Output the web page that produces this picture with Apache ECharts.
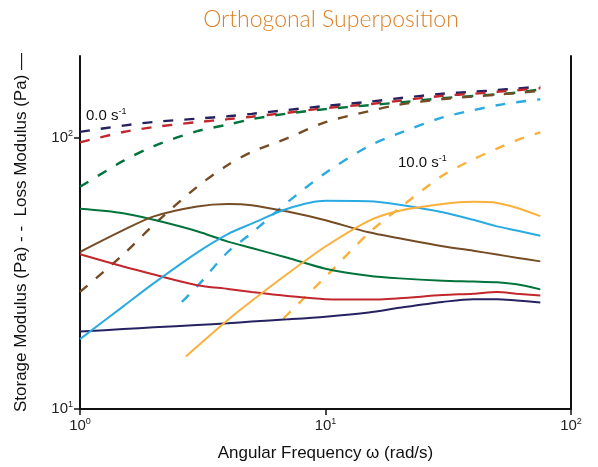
<!DOCTYPE html>
<html>
<head>
<meta charset="utf-8">
<script src="https://cdn.jsdelivr.net/npm/echarts@6/dist/echarts.min.js"></script>
<style>
  html, body { margin: 0; padding: 0; background: #fff; }
  #chart { width: 598px; height: 467px; }
</style>
</head>
<body>
<div id="chart"></div>
<script>
// angular frequency samples (rad/s)
const omega = [1, 1.5, 2, 3, 4, 5, 7, 10, 15, 20, 30, 40, 50, 60, 75];

// storage modulus G' (dashed)
const navyStorage = [105.1, 110.8, 114.3, 117.5, 120.0, 122.4, 126.5, 130.9, 135.6, 139.8, 145.2, 147.6, 149.8, 151.8, 154.2];
const redStorage = [96.1, 104.9, 109.4, 114.1, 117.0, 119.5, 123.6, 128.5, 132.8, 136.8, 142.7, 145.2, 147.6, 149.5, 152.1];
const greenStorage = [65.9, 82.1, 93.1, 105.7, 111.7, 117.0, 122.7, 127.4, 131.7, 134.8, 139.8, 142.5, 144.5, 146.6, 150.7];
const brownStorage = [27.0, 37.1, 47.8, 65.9, 79.3, 88.5, 99.6, 114.1, 125.2, 132.3, 138.8, 141.8, 144.0, 146.0, 149.0];
const blueStorage = [[2.6, 24.8], [3, 28.3], [4, 37.9], [5, 44.5], [7, 57.8], [10, 74.1], [15, 93.1], [20, 104.0], [30, 118.7], [40, 126.3], [50, 131.7], [60, 135.1], [75, 138.6]];
const orangeStorage = [[6.75, 21.6], [7, 22.3], [10, 30.7], [15, 44.5], [20, 55.0], [30, 72.5], [40, 83.2], [50, 91.2], [60, 97.8], [75, 104.6]];

// loss modulus G'' (solid)
const navyLoss = [19.3, 19.7, 20.0, 20.4, 20.7, 21.0, 21.4, 21.9, 22.7, 23.6, 24.8, 25.4, 25.4, 25.1, 24.7];
const redLoss = [37.2, 33.5, 31.3, 28.6, 27.7, 27.0, 26.1, 25.4, 25.3, 25.6, 26.3, 26.6, 27.0, 26.6, 26.2];
const greenLoss = [54.7, 52.7, 49.8, 45.2, 41.4, 39.2, 36.1, 32.9, 31.0, 30.3, 29.7, 29.5, 29.3, 28.8, 27.6];
const brownLoss = [37.9, 45.6, 51.3, 55.8, 57.0, 56.4, 53.4, 49.6, 44.8, 42.6, 39.8, 38.3, 37.1, 36.1, 35.0];
const blueLoss = [18.1, 23.9, 29.1, 37.7, 44.1, 48.2, 54.7, 58.5, 58.3, 56.6, 53.1, 49.8, 47.1, 45.5, 43.5];
const orangeLoss = [[2.7, 15.6], [3, 17.0], [4, 21.3], [5, 25.0], [7, 31.5], [10, 39.7], [15, 49.4], [20, 53.8], [30, 57.0], [40, 58.0], [50, 57.5], [60, 55.2], [75, 51.4]];

const colors = {
  navy: '#262262',
  red: '#c1272d',
  green: '#00733b',
  brown: '#754c24',
  blue: '#29abe2',
  orange: '#fbb03b'
};

const pair = vals => vals.map((v, i) => [omega[i], v]);

const makeSeries = (name, data, color, dashed) => ({
  name,
  type: 'line',
  data,
  smooth: 0.3,
  symbol: 'none',
  silent: true,
  lineStyle: {
    color,
    width: dashed ? 2.4 : 2,
    type: dashed ? [10, 11] : 'solid'
  },
  z: dashed ? 2 : 3
});

const powLabel = v => {
  const l = Math.log10(v);
  const e = Math.round(l);
  if (Math.abs(l - e) > 1e-6) return '';
  return '{b|10}{s|' + e + '}';
};

const labelRich = {
  b: { fontSize: 15, color: '#222', fontFamily: 'Liberation Sans', lineHeight: 17 },
  s: { fontSize: 9, color: '#222', fontFamily: 'Liberation Sans', verticalAlign: 'top', lineHeight: 10 }
};

const noteRich = {
  a: { fontSize: 15, fill: '#111', fontFamily: 'Liberation Sans', lineHeight: 17 },
  b: { fontSize: 9, fill: '#111', fontFamily: 'Liberation Sans', verticalAlign: 'top', lineHeight: 10 }
};

const chart = echarts.init(document.getElementById('chart'));

chart.setOption({
  animation: false,
  backgroundColor: '#fff',
  title: {
    text: 'Orthogonal Superposition',
    left: 326,
    textAlign: 'center',
    top: 3,
    textStyle: {
      color: '#dc7f24',
      fontFamily: 'Lato',
      fontWeight: 300,
      fontSize: 23
    }
  },
  grid: { left: 80, right: 27, top: 56, bottom: 56 },
  xAxis: {
    type: 'log',
    logBase: 10,
    min: 1,
    max: 100,
    name: 'Angular Frequency ω (rad/s)',
    nameLocation: 'middle',
    nameGap: 36,
    nameTextStyle: { fontSize: 17, color: '#111', fontFamily: 'Liberation Sans' },
    axisLine: { lineStyle: { color: '#111', width: 2 } },
    axisTick: { length: 6, lineStyle: { color: '#111', width: 1.5 } },
    minorTick: { show: false },
    splitLine: { show: false },
    axisLabel: { formatter: powLabel, rich: labelRich, margin: 8 }
  },
  yAxis: [
    {
      type: 'log',
      logBase: 10,
      min: 10,
      max: 200,
      name: 'Storage Modulus (Pa) - -  Loss Modulus (Pa) —',
      nameLocation: 'middle',
      nameGap: 50,
      nameTextStyle: { fontSize: 17, color: '#111', fontFamily: 'Liberation Sans' },
      axisLine: { show: true, lineStyle: { color: '#111', width: 2 } },
      axisTick: { length: 6, lineStyle: { color: '#111', width: 1.5 } },
      splitLine: { show: false },
      axisLabel: { formatter: powLabel, rich: labelRich, margin: 7, showMaxLabel: false }
    },
    {
      type: 'log',
      logBase: 10,
      min: 10,
      max: 200,
      position: 'right',
      axisLine: { show: true, lineStyle: { color: '#111', width: 2 } },
      axisTick: { show: false },
      axisLabel: { show: false },
      splitLine: { show: false }
    }
  ],
  graphic: [
    {
      type: 'text',
      left: 86,
      top: 107,
      style: { text: '{a|0.0 s}{b|-1}', rich: noteRich }
    },
    {
      type: 'text',
      left: 398,
      top: 154,
      style: { text: '{a|10.0 s}{b|-1}', rich: noteRich }
    }
  ],
  series: [
    makeSeries("navy G'", pair(navyStorage), colors.navy, true),
    makeSeries("red G'", pair(redStorage), colors.red, true),
    makeSeries("green G'", pair(greenStorage), colors.green, true),
    makeSeries("brown G'", pair(brownStorage), colors.brown, true),
    makeSeries("blue G'", blueStorage, colors.blue, true),
    makeSeries("orange G'", orangeStorage, colors.orange, true),
    makeSeries("navy G''", pair(navyLoss), colors.navy, false),
    makeSeries("red G''", pair(redLoss), colors.red, false),
    makeSeries("green G''", pair(greenLoss), colors.green, false),
    makeSeries("brown G''", pair(brownLoss), colors.brown, false),
    makeSeries("blue G''", pair(blueLoss), colors.blue, false),
    makeSeries("orange G''", orangeLoss, colors.orange, false)
  ]
});
</script>
</body>
</html>
